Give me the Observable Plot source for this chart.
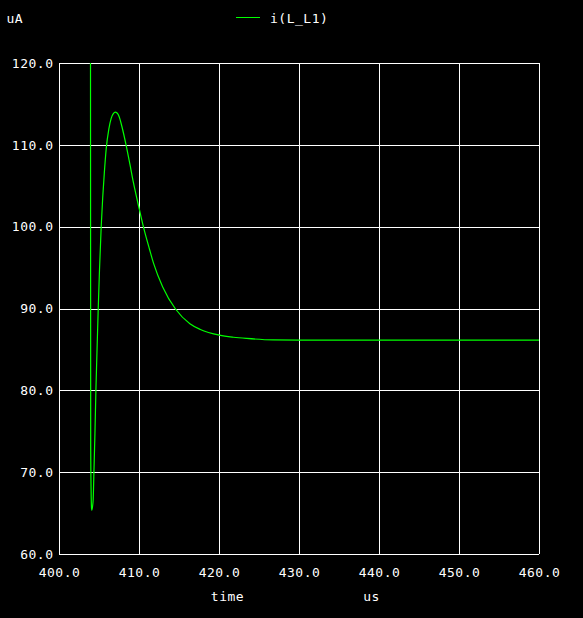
<!DOCTYPE html>
<html>
<head>
<meta charset="utf-8">
<script src="https://cdn.jsdelivr.net/npm/d3@7"></script>
<script src="https://cdn.jsdelivr.net/npm/@observablehq/plot@0.6"></script>
<style>
  html, body { margin: 0; padding: 0; background: #000; }
  #wrap { position: relative; width: 583px; height: 618px; background: #000; }
  #legend { position: absolute; left: 0; top: 0; }
  text { font-family: "DejaVu Sans Mono", monospace; }
</style>
</head>
<body>
<div id="wrap"></div>
<script>
// ---- data ----
const timeUs = [403.87, 403.9, 404.0, 404.04, 404.12, 404.21, 404.3, 404.43, 404.55, 404.68, 404.84, 405.0, 405.21, 405.4, 405.6, 405.84, 406.17, 406.46, 406.75, 406.96, 407.2, 407.46, 407.8, 408.33, 408.8, 409.25, 410.0, 410.5, 411.25, 411.75, 412.9, 414.5, 416.3, 417.6, 420.0, 421.75, 423.4, 426.7, 430.0, 440.0, 450.0, 460.0];
const currentUA = [130, 73.2, 65.7, 65.4, 65.8, 66.7, 70.0, 74.8, 80.0, 84.6, 90.0, 94.8, 100.0, 103.6, 106.6, 109.6, 112.0, 113.3, 113.9, 114.06, 113.95, 113.5, 112.3, 110.0, 107.7, 105.4, 102.1, 100.0, 97.3, 95.6, 92.7, 90.0, 88.2, 87.5, 86.8, 86.55, 86.4, 86.22, 86.2, 86.2, 86.2, 86.2];
const xTicks = [400, 410, 420, 430, 440, 450, 460];
const yTicks = [60, 70, 80, 90, 100, 110, 120];
const yUnit = "uA";
const xLabel = "time";
const xUnit = "us";
const seriesName = "i(L_L1)";
const lineColor = "#00ff00";

const data = timeUs.map((t, i) => ({t, v: currentUA[i]}));

const chart = Plot.plot({
  width: 583,
  height: 618,
  marginLeft: 59,
  marginRight: 44,
  marginTop: 63,
  marginBottom: 64,
  style: {
    background: "#000",
    color: "#fff",
    fontFamily: "DejaVu Sans Mono, monospace",
    fontSize: "13px",
    letterSpacing: "0.5px"
  },
  x: { domain: [400, 460] },
  y: { domain: [60, 120] },
  marks: [
    Plot.ruleX(xTicks, { stroke: "#fff", strokeOpacity: 1, shapeRendering: "crispEdges" }),
    Plot.ruleY(yTicks, { stroke: "#fff", strokeOpacity: 1, shapeRendering: "crispEdges" }),
    Plot.line(data, { x: "t", y: "v", stroke: lineColor, strokeWidth: 1.2, curve: "monotone-x", clip: true }),
    Plot.axisX(xTicks, { tickSize: 0, tickPadding: 13, tickFormat: d => d.toFixed(1), label: null, fill: "#fff" }),
    Plot.axisY(yTicks, { tickSize: 0, tickPadding: 6, tickFormat: d => d.toFixed(1), label: null, fill: "#fff" }),
    Plot.text([xLabel], { frameAnchor: "bottom", lineAnchor: "middle", dx: -72, dy: 42, fill: "#fff", fontSize: 13 }),
    Plot.text([xUnit], { frameAnchor: "bottom", lineAnchor: "middle", dx: 72, dy: 42, fill: "#fff", fontSize: 13 }),
    Plot.text([yUnit], { frameAnchor: "top-left", lineAnchor: "middle", textAnchor: "start", dx: -53, dy: -45, fill: "#fff", fontSize: 13 })
  ]
});
document.getElementById("wrap").appendChild(chart);

// legend overlay
const leg = d3.select("#wrap").append("svg")
  .attr("id", "legend").attr("width", 583).attr("height", 35);
leg.append("line").attr("x1", 236).attr("x2", 260).attr("y1", 17.5).attr("y2", 17.5)
  .attr("stroke", lineColor).attr("stroke-width", 1).attr("shape-rendering", "crispEdges");
leg.append("text").attr("x", 270).attr("y", 22.5).attr("fill", "#fff")
  .attr("font-size", 13).attr("letter-spacing", "0.5px").text(seriesName);
</script>
</body>
</html>
